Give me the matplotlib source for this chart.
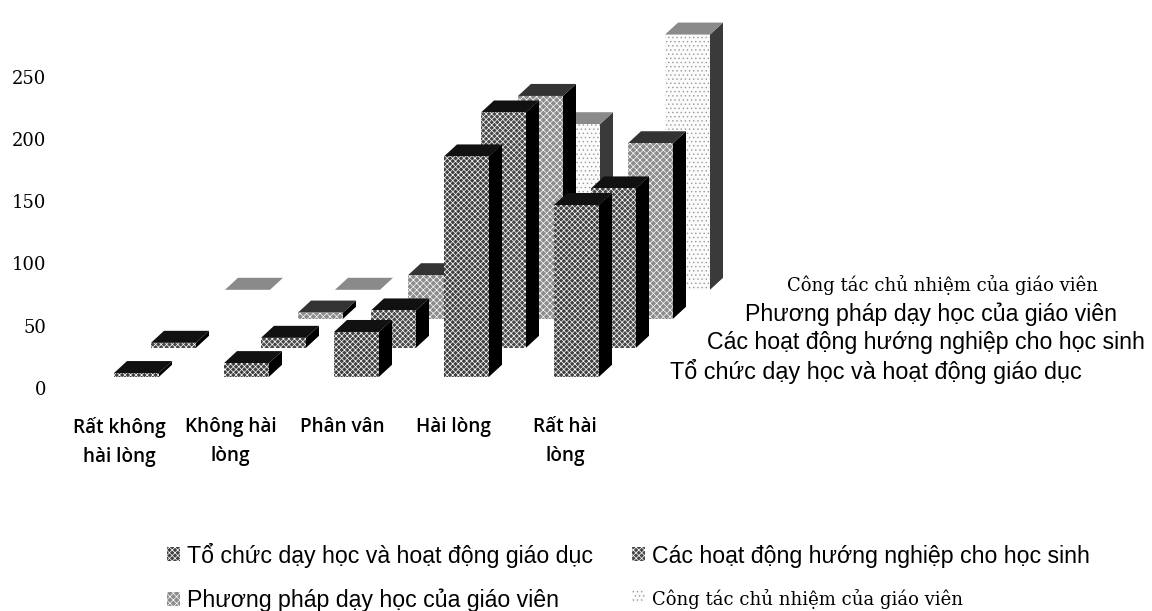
import matplotlib
matplotlib.use('Agg')
import matplotlib.pyplot as plt
from matplotlib.patches import Patch

categories = ['Rất không\nhài lòng', 'Không hài\nlòng', 'Phân vân', 'Hài lòng', 'Rất hài\nlòng']
series_names = ['Tổ chức dạy học và hoạt động giáo dục',
                'Các hoạt động hướng nghiệp cho học sinh',
                'Phương pháp dạy học của giáo viên',
                'Công tác chủ nhiệm của giáo viên']
to_chuc = [3, 11, 36, 177, 138]
hoat_dong = [4, 8, 30, 189, 128]
phuong_phap = [0, 5, 35, 179, 141]
chu_nhiem = [0, 0, 5, 133, 205]
y_ticks = [0, 50, 100, 150, 200, 250]

# front, side, top colours for each series
face_colors = ['#404040', '#484848', '#8c8c8c', '#fbfbfb']
side_colors = ['#000000', '#000000', '#000000', '#3a3a3a']
top_colors = ['#111111', '#111111', '#333333', '#8a8a8a']
hatch_colors = ['#ffffff', '#ffffff', '#ffffff', '#9a9a9a']
hatches = ['xxxxxx', 'xxxxxx', 'xxxxx', '....']

plt.rcParams['hatch.linewidth'] = 0.5

W, H = 1152, 611
px_per_unit = 1.245     # y scale
px_per_cat = 111.5      # x scale, spacing of the category labels
left_px, zero_px = 47, 388

fig = plt.figure(figsize=(W / 100, H / 100), dpi=100)
ax = fig.add_axes([left_px / W, (H - zero_px) / H, 1 - left_px / W, zero_px / H])
ax.set_xlim((left_px - 119) / px_per_cat, (W - 119) / px_per_cat)
ax.set_ylim(0, zero_px / px_per_unit)

# oblique projection offsets, in data units
bar_w = 45 / px_per_cat
depth_x = 13 / px_per_cat
depth_y = 12 / px_per_unit
step_x = 37 / px_per_cat
step_y = 29 / px_per_unit
start_x = -5 / px_per_cat
start_y = 9
cat_step = 110 / px_per_cat


def draw_bar(x, base, h, i):
    x2 = x + bar_w
    y2 = base + h
    zo = 10 - i
    ax.fill([x2, x2 + depth_x, x2 + depth_x, x2], [base, base + depth_y, y2 + depth_y, y2],
            facecolor=side_colors[i], edgecolor=side_colors[i], lw=0, zorder=zo)
    ax.fill([x, x + depth_x, x2 + depth_x, x2], [y2, y2 + depth_y, y2 + depth_y, y2],
            facecolor=top_colors[i], edgecolor=top_colors[i], lw=0, zorder=zo)
    ax.fill([x, x2, x2, x], [base, base, y2, y2],
            facecolor=face_colors[i], edgecolor=hatch_colors[i], hatch=hatches[i], lw=0, zorder=zo)


all_series = [to_chuc, hoat_dong, phuong_phap, chu_nhiem]
for i in [3, 2, 1, 0]:
    for k, v in enumerate(all_series[i]):
        if i == 2 and v == 0:
            continue
        draw_bar(start_x + k * cat_step + i * step_x, start_y + i * step_y, v, i)

for s in ax.spines.values():
    s.set_visible(False)
ax.set_yticks(y_ticks)
ax.set_yticklabels([str(t) for t in y_ticks], family='DejaVu Serif', fontsize=13)
ax.set_xticks(range(len(categories)))
ax.set_xticklabels(categories, family='Open Sans', fontsize=13.7, fontweight='semibold', linespacing=1.58)
ax.tick_params(axis='both', length=0)
ax.tick_params(axis='x', pad=21)
ax.tick_params(axis='y', pad=0.5)

# series names along the depth axis
depth_labels = [(670, 372, 16.8, 'Liberation Sans'), (707, 342, 16.7, 'Liberation Sans'),
                (745, 314, 16.7, 'Liberation Sans'), (787, 285, 13, 'DejaVu Serif')]
for name, (px, py, fs, fam) in zip(series_names, depth_labels):
    fig.text(px / W, 1 - py / H, name, fontsize=fs, family=fam, va='center', ha='left')

order = [0, 2, 1, 3]
handles = [Patch(facecolor=face_colors[i], edgecolor=hatch_colors[i], hatch=hatches[i], lw=0, label=series_names[i])
           for i in order]
leg = fig.legend(handles=handles, ncol=2, frameon=False, loc='lower left',
                 bbox_to_anchor=(146 / W, 1 - 633 / H), prop={'family': 'Liberation Sans', 'size': 16.7},
                 handlelength=0.55, handleheight=0.55, handletextpad=0.3, columnspacing=1.72, labelspacing=0.9)
leg.get_texts()[3].set_fontsize(13)
leg.get_texts()[3].set_family('DejaVu Serif')

fig.savefig('out.png', dpi=100)
